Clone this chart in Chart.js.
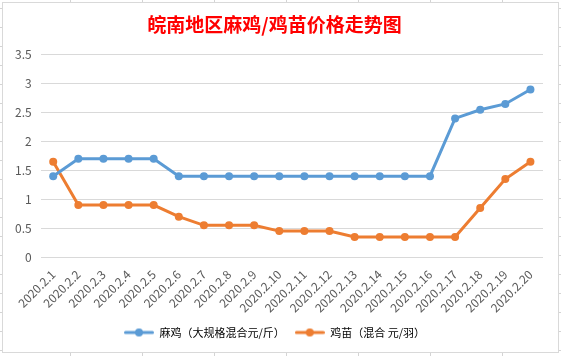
<!DOCTYPE html>
<html>
<head>
<meta charset="utf-8">
<script src="https://cdn.jsdelivr.net/npm/chart.js@4/dist/chart.umd.min.js"></script>
<style>
  html, body { margin: 0; padding: 0; background: #fff; }
  #wrap { position: relative; width: 561px; height: 356px; overflow: hidden; }
  .vl { position: absolute; width: 1px; background: #d4d4d4; }
  .hl { position: absolute; height: 1px; background: #d4d4d4; }
  #frame { position: absolute; left: 2px; top: 2px; width: 557px; height: 351px; box-sizing: border-box; border: 1px solid #d9d9d9; background: #fff; }
  canvas { position: absolute; left: 0; top: 0; }
</style>
</head>
<body>
<div id="wrap">
  <div id="frame"></div>
  <canvas id="c" width="561" height="356"></canvas>
</div>
<script>
const categories = ["2020.2.1","2020.2.2","2020.2.3","2020.2.4","2020.2.5","2020.2.6","2020.2.7","2020.2.8","2020.2.9","2020.2.10","2020.2.11","2020.2.12","2020.2.13","2020.2.14","2020.2.15","2020.2.16","2020.2.17","2020.2.18","2020.2.19","2020.2.20"];
const maJi = [1.4,1.7,1.7,1.7,1.7,1.4,1.4,1.4,1.4,1.4,1.4,1.4,1.4,1.4,1.4,1.4,2.4,2.55,2.65,2.9];
const jiMiao = [1.65,0.9,0.9,0.9,0.9,0.7,0.55,0.55,0.55,0.45,0.45,0.45,0.35,0.35,0.35,0.35,0.35,0.85,1.35,1.65];
const seriesNames = ["麻鸡（大规格混合元/斤）","鸡苗（混合 元/羽）"];
const titleText = "皖南地区麻鸡/鸡苗价格走势图";
const yMin = 0, yMax = 3.5, yStep = 0.5;

// spreadsheet cell lines around the chart
const wrap = document.getElementById('wrap');
[70,142,214,286,358,430,502].forEach(x => {
  const t = document.createElement('div'); t.className='vl'; t.style.left=x+'px'; t.style.top='0px'; t.style.height='3px'; wrap.insertBefore(t, wrap.firstChild);
  const b = document.createElement('div'); b.className='vl'; b.style.left=x+'px'; b.style.top='353px'; b.style.height='3px'; wrap.insertBefore(b, wrap.firstChild);
});
for (let y = 8; y < 356; y += 19) {
  const l = document.createElement('div'); l.className='hl'; l.style.left='0px'; l.style.top=y+'px'; l.style.width='2px'; wrap.insertBefore(l, wrap.firstChild);
  const r = document.createElement('div'); r.className='hl'; r.style.left='559px'; r.style.top=y+'px'; r.style.width='2px'; wrap.insertBefore(r, wrap.firstChild);
}

function legendIcon(color) {
  const cv = document.createElement('canvas');
  cv.width = 30; cv.height = 10;
  const x = cv.getContext('2d');
  x.strokeStyle = color; x.lineWidth = 3; x.lineCap = 'round';
  x.beginPath(); x.moveTo(1.5, 5); x.lineTo(28.5, 5); x.stroke();
  x.fillStyle = color; x.beginPath(); x.arc(15, 5, 4, 0, Math.PI*2); x.fill();
  return cv;
}
const colors = ['#5B9BD5', '#ED7D31'];
const icons = colors.map(legendIcon);
const FONT = "'Noto Sans CJK SC', 'Noto Sans', sans-serif";

new Chart(document.getElementById('c'), {
  type: 'line',
  data: {
    labels: categories,
    datasets: [
      { label: seriesNames[0], data: maJi, borderColor: colors[0], backgroundColor: colors[0], borderWidth: 3, pointRadius: 4, pointHoverRadius: 4, pointBorderWidth: 0, tension: 0 },
      { label: seriesNames[1], data: jiMiao, borderColor: colors[1], backgroundColor: colors[1], borderWidth: 3, pointRadius: 4, pointHoverRadius: 4, pointBorderWidth: 0, tension: 0 }
    ]
  },
  options: {
    responsive: false,
    animation: false,
    devicePixelRatio: 1,
    layout: { padding: { left: 6, right: 18, top: 0, bottom: 8 } },
    plugins: {
      title: {
        display: true, text: titleText, color: '#FF0000',
        font: { family: FONT, size: 19, weight: 'bold' },
        padding: { top: 13, bottom: 19 }
      },
      legend: {
        position: 'bottom',
        labels: {
          color: '#595959',
          font: { family: FONT, size: 11 },
          usePointStyle: true,
          pointStyleWidth: 30,
          boxHeight: 10,
          padding: 10,
          generateLabels: (chart) => chart.data.datasets.map((ds, i) => ({
            text: ds.label, pointStyle: icons[i], fillStyle: colors[i], strokeStyle: colors[i], lineWidth: 0, datasetIndex: i, hidden: false
          }))
        }
      },
      tooltip: { enabled: false }
    },
    scales: {
      x: {
        offset: true,
        grid: { display: false },
        border: { display: false },
        ticks: { color: '#595959', font: { family: FONT, size: 12 }, minRotation: 45, maxRotation: 45, autoSkip: false, padding: 2 }
      },
      y: {
        min: yMin, max: yMax,
        grid: { color: '#d9d9d9', drawTicks: false, lineWidth: 1 },
        border: { display: false },
        ticks: { stepSize: yStep, color: '#595959', font: { family: FONT, size: 12 }, padding: 9, callback: v => String(v) }
      }
    }
  }
});
</script>
</body>
</html>
